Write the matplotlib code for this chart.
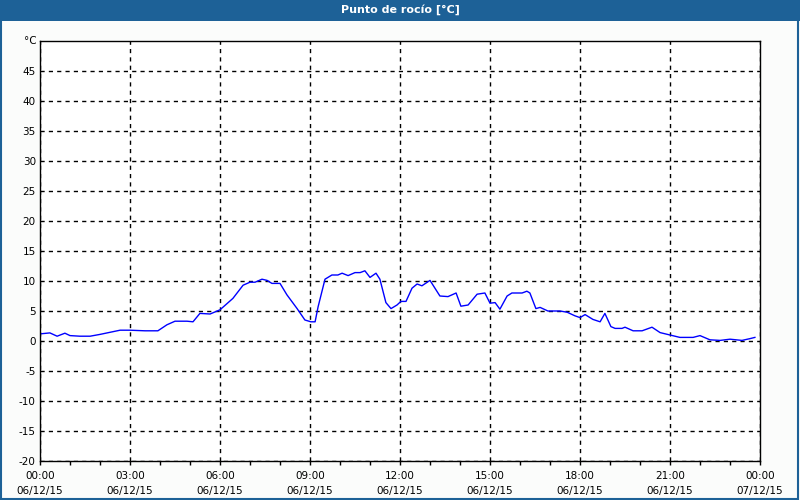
import matplotlib
import matplotlib.pyplot as plt
import numpy as np
from matplotlib.patches import Rectangle

matplotlib.use('Agg')

# hours since 06/12/15 00:00 and dew point readings
hours = [0.03, 0.33, 0.57, 0.83, 1.0, 1.33, 1.67, 2.0, 2.43, 2.67, 3.0, 3.5, 3.93,
         4.23, 4.5, 4.9, 5.1, 5.33, 5.67, 6.0, 6.43, 6.77, 7.0, 7.17, 7.4, 7.57,
         7.73, 8.0, 8.23, 8.57, 8.83, 9.03, 9.17, 9.27, 9.5, 9.73, 9.93, 10.07,
         10.27, 10.5, 10.67, 10.83, 11.0, 11.2, 11.33, 11.53, 11.7, 11.9, 12.03,
         12.2, 12.4, 12.57, 12.73, 13.0, 13.33, 13.6, 13.87, 14.03, 14.27, 14.57,
         14.83, 15.0, 15.17, 15.33, 15.57, 15.73, 16.07, 16.23, 16.33, 16.53,
         16.67, 16.93, 17.33, 17.57, 17.83, 18.0, 18.17, 18.43, 18.67, 18.83,
         19.03, 19.17, 19.4, 19.5, 19.77, 20.07, 20.4, 20.67, 21.0, 21.33, 21.57,
         21.77, 22.0, 22.33, 22.67, 23.0, 23.4, 23.67, 23.83]
dew_point = [1.2, 1.35, 0.8, 1.3, 0.9, 0.8, 0.8, 1.1, 1.55, 1.8, 1.8, 1.7, 1.7,
             2.7, 3.3, 3.3, 3.2, 4.6, 4.5, 5.2, 7.1, 9.3, 9.8, 9.8, 10.3, 10.1,
             9.6, 9.6, 7.7, 5.4, 3.5, 3.2, 3.2, 5.7, 10.3, 11.0, 11.0, 11.3,
             10.9, 11.4, 11.4, 11.7, 10.6, 11.3, 10.3, 6.4, 5.4, 6.0, 6.6,
             6.6, 8.8, 9.5, 9.2, 10.1, 7.5, 7.4, 8.0, 5.8, 6.0, 7.8,
             8.0, 6.3, 6.4, 5.3, 7.5, 8.0, 8.0, 8.3, 8.0, 5.4,
             5.6, 5.0, 5.0, 4.8, 4.2, 3.9, 4.4, 3.6, 3.2, 4.6,
             2.4, 2.1, 2.1, 2.3, 1.7, 1.7, 2.3, 1.4, 1.0, 0.6, 0.6,
             0.6, 0.9, 0.2, 0.1, 0.3, 0.1, 0.4, 0.6]

x_labels = ['00:00\n06/12/15', '03:00\n06/12/15', '06:00\n06/12/15', '09:00\n06/12/15',
            '12:00\n06/12/15', '15:00\n06/12/15', '18:00\n06/12/15', '21:00\n06/12/15',
            '00:00\n07/12/15']
y_ticks = list(range(-20, 50, 5))

bg = '#fbfcfb'
bar = '#1d6197'

plt.rcParams['font.family'] = ['DejaVu Sans']
fig = plt.figure(figsize=(8, 5), dpi=100, facecolor=bg)

fig.patches.append(Rectangle((0, 1 - 21 / 500), 1, 21 / 500, transform=fig.transFigure,
                             facecolor=bar, edgecolor='none', zorder=0))
fig.patches.append(Rectangle((0.001, 0.002), 0.997, 0.996, transform=fig.transFigure,
                             facecolor='none', edgecolor=bar, linewidth=1.5, zorder=5))
fig.text(0.5, 1 - 10 / 500, 'Punto de rocío [°C]', color='white', fontsize=8,
         fontweight='bold', ha='center', va='center')

ax = fig.add_axes([40 / 800, 1 - 461 / 500, 720 / 800, 420 / 500])
ax.set_facecolor('white')
ax.plot(hours, dew_point, color='#0000ff', linewidth=1)

ax.set_xlim(0, 24)
ax.set_ylim(-20, 50)
ax.set_xticks(np.arange(0, 25, 3))
ax.set_xticklabels(x_labels, fontsize=7.5, linespacing=1.6)
ax.set_xticks(np.arange(0, 25, 1), minor=True)
ax.set_yticks(y_ticks)
ax.set_yticklabels([str(v) for v in y_ticks], fontsize=7.5)
ax.text(-0.1, 50, '°C', fontsize=7.5, ha='right', va='center')

ax.tick_params(axis='x', which='both', direction='out', length=3, width=1, pad=4)
ax.tick_params(axis='y', length=0, pad=3)
ax.grid(True, which='major', color='black', linestyle=(0, (3, 3)), linewidth=1)
for s in ax.spines.values():
    s.set_color('black')
    s.set_linewidth(1)

fig.savefig('out.png', dpi=100, facecolor=bg)
